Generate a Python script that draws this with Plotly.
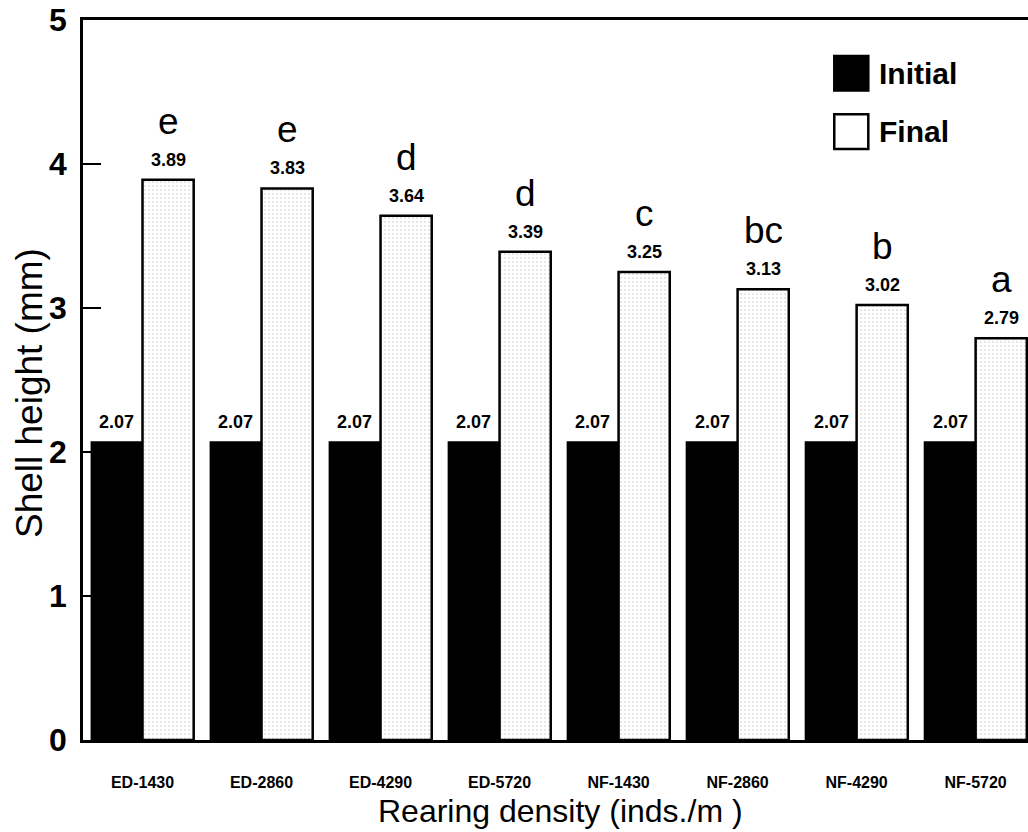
import numpy as np
import plotly.graph_objects as go

# Shell height of juveniles under different rearing densities
groups = ["ED-1430", "ED-2860", "ED-4290", "ED-5720",
          "NF-1430", "NF-2860", "NF-4290", "NF-5720"]
initial_height = [2.07, 2.07, 2.07, 2.07, 2.07, 2.07, 2.07, 2.07]
final_height = [3.89, 3.83, 3.64, 3.39, 3.25, 3.13, 3.02, 2.79]
significance = ["e", "e", "d", "d", "c", "bc", "b", "a"]

FONT = "Liberation Sans, Arial, Helvetica, sans-serif"
BAR_W = 0.43
xpos = np.arange(len(groups))

fig = go.Figure()

fig.add_trace(go.Bar(
    name="Initial", x=xpos - BAR_W / 2, y=initial_height, width=BAR_W,
    marker=dict(color="black", line=dict(color="black", width=1.5)),
    showlegend=False,
))
fig.add_trace(go.Bar(
    name="Final", x=xpos + BAR_W / 2, y=final_height, width=BAR_W,
    marker=dict(
        color="white",
        line=dict(color="black", width=2.5),
        pattern=dict(shape=".", fgcolor="#a0a0a0", bgcolor="white",
                     size=4, solidity=0.15),
    ),
    showlegend=False,
))

annotations = []
# value labels above each bar
for i in range(len(groups)):
    for off, val in ((-BAR_W / 2, initial_height[i]), (BAR_W / 2, final_height[i])):
        annotations.append(dict(
            x=xpos[i] + off, y=val, xref="x", yref="y",
            text=f"<b>{val:.2f}</b>", showarrow=False,
            yanchor="bottom", yshift=8,
            font=dict(family=FONT, size=18, color="black"),
        ))
    # significance letters over the final bars
    annotations.append(dict(
        x=xpos[i] + BAR_W / 2, y=final_height[i], xref="x", yref="y",
        text=significance[i], showarrow=False,
        yanchor="bottom", yshift=36,
        font=dict(family=FONT, size=37, color="black"),
    ))

# legend drawn as boxes with labels
legend_items = [("Initial", "black", 0.926), ("Final", "white", 0.845)]
shapes = []
for label, fill, yc in legend_items:
    shapes.append(dict(
        type="rect", xref="paper", yref="paper",
        x0=0.795, x1=0.831, y0=yc - 0.024, y1=yc + 0.024,
        fillcolor=fill, line=dict(color="black", width=2.5),
    ))
    annotations.append(dict(
        x=0.840, y=yc, xref="paper", yref="paper", text=f"<b>{label}</b>",
        showarrow=False, xanchor="left", yanchor="middle",
        font=dict(family=FONT, size=30, color="black"),
    ))

# axis titles
annotations.append(dict(
    x=0.505, y=-0.098, xref="paper", yref="paper",
    text="Rearing density (inds./m )", showarrow=False,
    xanchor="center", yanchor="middle",
    font=dict(family=FONT, size=32, color="black"),
))
annotations.append(dict(
    x=-0.056, y=0.482, xref="paper", yref="paper",
    text="Shell height (mm)", textangle=-90, showarrow=False,
    xanchor="center", yanchor="middle",
    font=dict(family=FONT, size=37, color="black"),
))

fig.update_layout(
    width=1028, height=832,
    margin=dict(l=83, r=0, t=20, b=92),
    paper_bgcolor="white", plot_bgcolor="white",
    barmode="overlay",
    annotations=annotations, shapes=shapes,
    font=dict(family=FONT, color="black"),
)

fig.update_xaxes(
    range=[-0.5, 7.44],
    tickmode="array", tickvals=xpos, ticktext=[f"<b>{g}</b>" for g in groups],
    tickfont=dict(family=FONT, size=16, color="black"),
    ticks="", ticklabelstandoff=26,
    showline=True, linecolor="black", linewidth=3, mirror=True,
    showgrid=False, zeroline=False,
)
fig.update_yaxes(
    range=[0, 5], tickvals=[0, 1, 2, 3, 4, 5],
    ticktext=[f"<b>{v}</b>" for v in [0, 1, 2, 3, 4, 5]],
    tickfont=dict(family=FONT, size=32, color="black"),
    ticks="inside", ticklen=18, tickwidth=2, tickcolor="black",
    ticklabelstandoff=7,
    showline=True, linecolor="black", linewidth=2.5, mirror=False,
    showgrid=False, zeroline=False,
)

fig.write_html("out.html")
